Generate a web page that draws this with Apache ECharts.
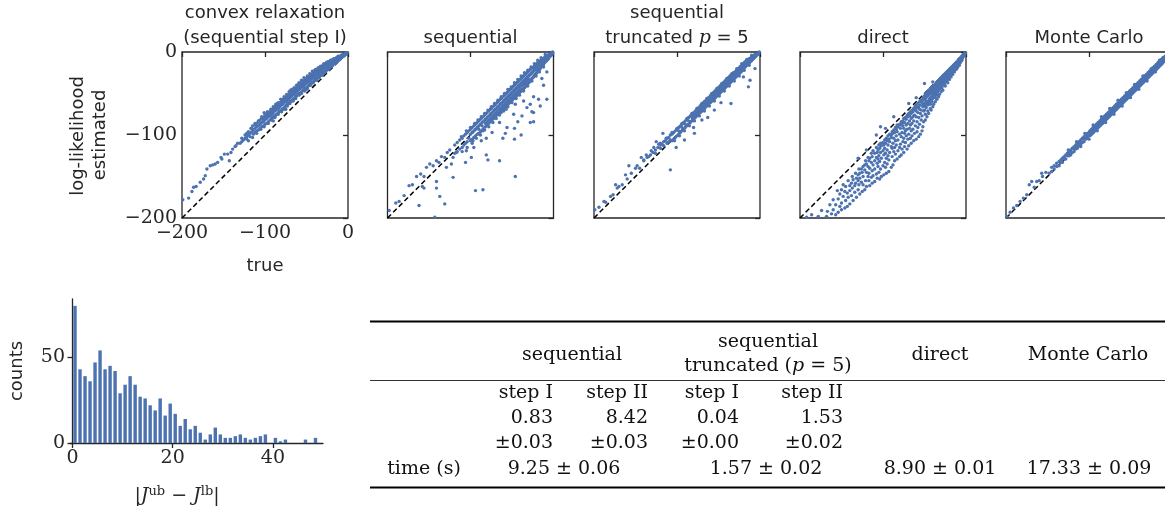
<!DOCTYPE html>
<html><head><meta charset="utf-8">
<script src="https://cdn.jsdelivr.net/npm/echarts@6/dist/echarts.min.js"></script>
<style>html,body{margin:0;padding:0;background:#fff}#c{width:1165px;height:513px}</style>
</head><body><div id="c"></div>
<script>
// ---------------- DATA ----------------
const plotTitles = [["convex relaxation","(sequential step I)"],["sequential"],["sequential","truncated {it|p} = 5"],["direct"],["Monte Carlo"]];
const scatterTicks = [-200,-100,0];
// rows: [true log-likelihood, estimated, estimated, ...]
const convexRows = [[-1,-1],[-2,-1,-2],[-3,-2,-3],[-4,-3,-2,-4],[-5,-4,-3,-5],[-6,-4,-5,-3],[-7,-5,-4,-6],[-8,-6,-4,-7],[-9,-6,-5,-8],[-10,-7,-5,-9],[-11,-8,-6,-10],[-12,-9,-6,-10],[-13,-9,-7,-11],[-14,-10,-7,-12],[-15,-11,-8,-13],[-16,-11,-8,-13,-14],[-17,-12,-9,-14],[-18,-13,-9,-15,-11],[-19,-13,-10,-16],[-20,-14,-10,-17,-12],[-21,-15,-11,-18],[-22,-15,-11,-19,-13],[-23,-16,-12,-20],[-24,-17,-12,-20,-14],[-25,-17,-13,-21],[-26,-18,-13,-22,-15],[-27,-19,-14,-23],[-28,-20,-15,-24,-17],[-29,-20,-15,-25],[-30,-21,-16,-25,-18],[-31,-22,-17,-26],[-32,-23,-18,-27,-20],[-33,-23,-18,-28],[-34,-24,-19,-29,-21],[-35,-25,-20,-30],[-36,-26,-21,-31,-23],[-37,-27,-22,-31],[-38,-27,-22,-32,-25],[-39,-28,-23,-33],[-40,-29,-24,-34,-26],[-41,-30,-25,-35],[-42,-31,-26,-36,-28],[-43,-31,-26,-37],[-44,-32,-27,-37,-29],[-45,-33,-28,-38],[-46,-34,-29,-39,-31],[-47,-35,-30,-40],[-48,-36,-31,-41,-33],[-49,-36,-31,-42],[-50,-37,-32,-43,-35],[-51,-38,-33,-44],[-52,-39,-34,-44,-36],[-53,-40,-35,-45],[-54,-41,-36,-46,-38],[-55,-42,-37,-47],[-56,-42,-37,-48,-40],[-57,-43,-38,-49],[-58,-44,-39,-50,-42],[-59,-45,-40,-50],[-60,-46,-41,-51,-43],[-62,-48,-43,-53,-45],[-63,-49,-44,-54],[-64,-50,-45,-55,-47],[-65,-51,-46,-56],[-66,-51,-46,-57,-49],[-67,-52,-47,-58],[-68,-53,-48,-59,-51],[-69,-54,-49,-59],[-70,-55,-50,-60,-52],[-72,-57,-52,-62,-54],[-73,-58,-53,-63],[-74,-59,-54,-64,-56],[-75,-60,-55,-65],[-76,-60,-55,-66,-58],[-78,-62,-57,-68,-60],[-79,-63,-58,-69],[-80,-64,-59,-70,-62],[-82,-66,-61,-71,-63],[-83,-67,-62,-72],[-84,-68,-63,-73,-65],[-86,-69,-64,-75,-67],[-87,-70,-65,-76],[-88,-71,-66,-77,-69],[-90,-73,-68,-78,-71],[-91,-74,-69,-79],[-92,-75,-70,-80,-72],[-94,-77,-72,-82,-74],[-96,-78,-73,-84,-76],[-98,-80,-75,-86,-78],[-100,-82,-77,-87,-80],[-102,-84,-79,-89,-82],[-104,-85,-80,-90],[-106,-87,-82,-92],[-108,-89,-84,-94],[-110,-90,-86,-95],[-112,-92,-88,-97],[-114,-94,-99],[-116,-96,-92],[-118,-98,-102],[-120,-100,-96],[-122,-102,-105],[-124,-104,-100],[-126,-106],[-128,-108,-104],[-130,-110],[-133,-110],[-135,-113],[-136,-114],[-139,-117],[-141,-121],[-143,-131],[-145,-123],[-149,-123],[-152,-129],[-153,-127],[-157,-133],[-160,-135],[-163,-136],[-166,-137],[-170,-141],[-172,-149],[-174,-153],[-178,-157],[-183,-162],[-186,-163],[-188,-168],[-192,-176],[-199,-178],[-115,-89],[-101,-73],[-60,-39],[-40,-22],[-85,-62],[-70,-47],[-50,-45],[-90,-83],[-75,-69],
[-12,-5],[-17,-8],[-21,-10],[-25,-12],[-29,-14],[-33,-17],[-36,-19],[-39,-21],[-43,-23],[-46,-26],[-49,-29],[-53,-31],[-56,-34],[-59,-37],[-62,-40],[-65,-43],[-68,-45],[-71,-48],[-74,-51],[-77,-54],[-81,-57],[-84,-61],[-87,-63],[-90,-66],[-93,-69],[-97,-72],[-100,-75],[-104,-78],[-108,-83],[-112,-86],[-117,-92],[-122,-98],
[-14,-13],[-19,-17],[-23,-21],[-27,-24],[-31,-28],[-35,-31],[-38,-34],[-42,-37],[-45,-40],[-49,-44],[-52,-47],[-56,-50],[-59,-52],[-63,-56],[-66,-59],[-70,-62],[-73,-65],[-77,-69],[-80,-72],[-84,-75],[-88,-79],[-92,-82],[-96,-86],[-101,-90],[-105,-93],[-110,-98],[-115,-103],[-120,-107]];
const sequentialRows = [[-1,-1,0],[-2,-1,-3],[-3,-2,-4],[-4,-2,-5,-4],[-5,-3,-6],[-6,-4,-8,-5],[-7,-4,-9],[-8,-5,-10,-7],[-9,-6,-11],[-10,-6,-12,-9],[-11,-7,-13,-10],[-12,-8,-15,-11],[-13,-8,-16,-12],[-14,-9,-17,-13],[-15,-10,-18,-14],[-16,-11,-20,-15],[-17,-12,-21,-16],[-18,-12,-22,-17],[-19,-13,-23,-18],[-20,-14,-25,-19],[-21,-15,-26,-20],[-22,-16,-27,-21],[-23,-17,-28,-22],[-24,-18,-30,-23],[-25,-19,-31,-24],[-26,-19,-32,-25],[-27,-20,-33,-26],[-28,-21,-35,-27],[-29,-22,-36,-28],[-30,-23,-37,-29,-33],[-31,-24,-38,-30],[-32,-25,-39,-31,-35],[-33,-26,-40,-32],[-34,-27,-42,-33,-37],[-35,-28,-43,-34],[-36,-29,-44,-35,-39],[-37,-30,-45,-36],[-38,-31,-46,-37,-41],[-39,-32,-47,-38],[-40,-33,-48,-39,-44],[-41,-34,-49,-40],[-42,-35,-50,-41,-46],[-43,-36,-51,-42],[-44,-37,-52,-43,-48],[-45,-38,-53,-44],[-46,-39,-54,-45,-50],[-47,-40,-55,-46],[-48,-41,-56,-47,-52],[-49,-42,-57,-48],[-50,-43,-58,-49,-54],[-51,-44,-59,-50],[-52,-45,-60,-51,-56],[-53,-46,-61,-52],[-54,-47,-62,-53,-58],[-55,-48,-63,-54],[-56,-49,-64,-55,-60],[-57,-50,-65,-56],[-58,-51,-66,-57,-62],[-59,-52,-67,-58],[-60,-53,-68,-59,-64],[-62,-55,-70,-61,-66],[-63,-56,-71,-62],[-64,-57,-72,-63,-68],[-66,-59,-74,-65,-70],[-67,-60,-75,-66],[-68,-61,-76,-67,-72],[-70,-63,-78,-69,-74],[-71,-64,-79,-70],[-72,-65,-80,-71,-76],[-74,-67,-82,-73,-78],[-75,-68,-83,-74],[-76,-69,-84,-75,-80],[-78,-71,-86,-77,-82],[-80,-73,-88,-79,-84],[-82,-75,-90,-81,-86],[-84,-77,-92,-83],[-86,-79,-94,-85,-89],[-88,-81,-96,-87],[-90,-83,-98,-89,-93],[-92,-85,-99,-91],[-94,-87,-101,-93],[-96,-89,-103,-95],[-98,-91,-105,-97],[-100,-93,-107,-99],[-102,-95,-104],[-104,-97,-108],[-106,-99,-110],[-108,-101,-112],[-110,-104,-115],[-113,-106,-117],[-116,-109,-120],[-119,-112,-122],[-125,-118],[-128,-121],[-131,-127],[-135,-126],[-138,-133],[-141,-131],[-145,-137],[-149,-135],[-153,-139],[-156,-150],[-160,-147],[-165,-150],[-170,-160],[-174,-161],[-180,-173],[-186,-180],[-190,-182],[-198,-191],[-8,-24],[-8,-57],[-14,-32],[-12,-40],[-18,-57],[-16,-65],[-24,-54],[-24,-84],[-24,-73],[-28,-85],[-28,-63],[-32,-67],[-26,-72],[-36,-59],[-38,-77],[-39,-100],[-43,-84],[-46,-63],[-47,-92],[-47,-105],[-48,-75],[-46,-150],[-56,-91],[-57,-69],[-58,-98],[-61,-104],[-63,-73],[-65,-85],[-65,-131],[-71,-79],[-74,-97],[-79,-130],[-81,-124],[-81,-104],[-85,-95],[-85,-166],[-87,-107],[-91,-99],[-94,-167],[-96,-115],[-97,-107],[-99,-127],[-105,-119],[-106,-133],[-117,-121],[-121,-127],[-121,-151],[-123,-135],[-129,-139],[-131,-183],[-137,-174],[-141,-164],[-141,-156],[-143,-199],[-156,-164],[-162,-185],[-158,-162],
[-10,-3],[-15,-7],[-19,-10],[-23,-14],[-27,-18],[-31,-22],[-35,-25],[-39,-29],[-43,-33],[-47,-37],[-51,-42],[-55,-45],[-59,-50],[-63,-54],[-67,-58],[-71,-62],[-75,-66],[-79,-70],[-83,-74],[-87,-78],[-91,-82],[-95,-86],[-100,-91],[-105,-95],[-111,-102],
[-12,-18],[-17,-24],[-21,-29],[-26,-35],[-31,-41],[-36,-47],[-41,-52],[-45,-56],[-50,-61],[-55,-66],[-60,-71],[-65,-76],[-69,-80],[-73,-85],[-78,-90],[-83,-94],[-88,-100],[-93,-104],[-98,-110],[-104,-115],[-110,-120]];
const truncatedRows = [[-1,-1,0],[-2,-1,-2],[-3,-2,-3],[-4,-2,-4,-3],[-5,-3,-5],[-6,-3,-6,-4],[-7,-4,-7],[-8,-5,-8,-6],[-9,-5,-9],[-10,-6,-10,-8],[-11,-7,-11],[-12,-8,-12,-9],[-13,-8,-13],[-14,-9,-14,-11],[-15,-10,-15],[-16,-11,-16,-13],[-17,-11,-17],[-18,-12,-18,-15],[-19,-13,-19],[-20,-14,-21,-17],[-21,-15,-22],[-22,-16,-23,-19],[-23,-17,-24],[-24,-18,-25,-21],[-25,-19,-26],[-26,-20,-27,-23],[-27,-21,-28],[-28,-22,-29,-25],[-29,-23,-30],[-30,-24,-31,-27],[-31,-25,-32],[-32,-25,-33,-29],[-33,-26,-34],[-34,-27,-35,-31],[-35,-28,-36],[-36,-29,-37,-33],[-37,-30,-38],[-38,-31,-39,-35],[-39,-32,-40],[-40,-33,-41,-37],[-41,-34,-42],[-42,-35,-43,-39],[-43,-36,-44],[-44,-37,-45,-41],[-45,-38,-46],[-46,-39,-47,-43],[-47,-40,-48],[-48,-41,-49,-45],[-49,-42,-50],[-50,-43,-51,-47],[-51,-44,-52],[-52,-45,-53,-49],[-53,-46,-54],[-54,-47,-55,-51],[-55,-48,-56],[-56,-49,-57,-53],[-57,-50,-58],[-58,-51,-59,-55],[-59,-52,-60],[-60,-53,-61,-57],[-62,-55,-63,-59],[-63,-56,-64],[-64,-57,-65,-61],[-66,-59,-67,-63],[-67,-60,-68],[-68,-61,-69,-65],[-70,-63,-71,-67],[-71,-64,-72],[-72,-65,-73,-69],[-74,-67,-75,-71],[-75,-68,-76],[-76,-69,-77,-73],[-78,-71,-79,-75],[-80,-73,-81,-77],[-82,-75,-83,-79],[-84,-77,-85],[-86,-79,-87,-83],[-88,-81,-89],[-90,-83,-91,-87],[-92,-85,-93],[-94,-87,-95,-91],[-96,-89,-97],[-98,-91,-99,-95],[-100,-93,-101],[-102,-95,-103],[-104,-97,-105],[-106,-99,-107],[-108,-100,-106],[-110,-103,-108],[-112,-104,-110],[-114,-107],[-116,-108,-113],[-118,-111],[-120,-112,-116],[-123,-115],[-126,-118,-122],[-129,-121],[-132,-124],[-136,-127],[-140,-130],[-199,-190],[-194,-187],[-188,-180],[-186,-181],[-180,-174],[-177,-172],[-174,-160],[-172,-164],[-170,-162],[-166,-160],[-162,-148],[-160,-153],[-158,-137],[-155,-146],[-150,-140],[-148,-137],[-145,-140],[-143,-127],[-140,-131],[-137,-124],[-134,-126],[-131,-119],[-128,-115],[-125,-108],[-122,-111],[-117,-98],[-108,-142],[-35,-62],[-47,-61],[-14,-42],[-12,-34],[-63,-79],[-79,-98],[-91,-106],[-101,-115],[-80,-91],[-6,-20],[-20,-30],[-55,-70],[-70,-82],
[-10,-4],[-16,-9],[-22,-14],[-28,-20],[-34,-26],[-40,-32],[-46,-38],[-52,-44],[-58,-50],[-64,-56],[-70,-62],[-76,-68],[-82,-74],[-88,-80],[-94,-86],[-100,-92],[-106,-97],[-113,-104],[-120,-110],
[-13,-16],[-19,-22],[-25,-29],[-31,-35],[-37,-41],[-43,-47],[-49,-53],[-55,-59],[-61,-65],[-67,-71],[-73,-77],[-79,-83],[-85,-89],[-91,-95],[-97,-101],[-103,-107]];
const directRows = [[-1,-1,-2],[-2,-2,-3,-4],[-3,-3,-5,-4],[-4,-5,-4,-7,-6],[-5,-6,-8,-5,-10],[-6,-7,-9,-6,-11],[-7,-8,-11,-9,-13],[-8,-10,-8,-13,-16],[-9,-11,-9,-14,-12],[-10,-12,-15,-11,-18],[-11,-13,-16,-12,-20],[-12,-15,-13,-18,-21],[-13,-14,-17,-20,-16],[-14,-16,-19,-15,-24],[-15,-18,-16,-22,-20],[-16,-19,-17,-24,-27],[-17,-20,-18,-23,-26],[-18,-21,-19,-25,-30],[-19,-23,-20,-28,-25],[-20,-24,-21,-27,-33],[-21,-25,-22,-30,-28],[-22,-27,-23,-32,-37],[-23,-26,-24,-31,-35],[-24,-29,-25,-34,-28],[-25,-31,-26,-36,-41],[-26,-30,-27,-35,-39],[-27,-33,-28,-38,-31],[-28,-34,-29,-40,-46],[-29,-32,-30,-37,-43],[-30,-35,-31,-41,-48,-38],[-31,-37,-32,-44,-34],[-32,-36,-33,-42,-51,-39],[-33,-39,-35,-46,-54],[-34,-41,-36,-48,-44],[-35,-38,-37,-45,-57,-52],[-36,-43,-38,-50,-41],[-37,-40,-39,-47,-60,-55],[-38,-45,-40,-53,-48],[-39,-42,-41,-51,-63],[-40,-47,-43,-56,-66,-50],[-41,-44,-42,-53,-60],[-42,-49,-45,-58,-70],[-43,-46,-44,-55,-63,-68],[-44,-51,-47,-61,-57],[-45,-48,-46,-59,-74],[-46,-53,-50,-64,-71,-60],[-47,-50,-49,-62,-78],[-48,-55,-51,-67,-59],[-49,-52,-50,-65,-75,-82],[-50,-57,-53,-70,-62],
[-51,-58,-71,-84,-63],[-52,-66,-90,-55],[-53,-61,-77,-95],[-54,-70,-58,-82],[-55,-64,-99,-74],[-56,-60,-87,-69],[-57,-79,-66,-102],[-58,-62,-73,-91],[-59,-84,-67,-96],[-60,-65,-78,-105,-71],[-61,-89,-70,-64],[-62,-76,-98,-67],[-63,-68,-83,-107],[-64,-93,-72,-78],[-65,-70,-86,-101],[-66,-80,-95,-74,-110],[-67,-72,-88,-104],[-68,-77,-92,-83],[-69,-74,-99,-113],[-70,-86,-78,-105],[-71,-93,-76,-117],[-72,-81,-101,-88],[-73,-79,-109,-95],[-74,-85,-114,-98],[-75,-80,-92,-121,-104],[-76,-89,-108,-83],[-77,-97,-117,-86],[-78,-84,-102,-124],[-79,-92,-111,-88],[-80,-87,-99,-126,-115],[-82,-90,-106,-119],[-83,-96,-88,-129],[-84,-101,-112,-93],[-85,-123,-91,-107],[-86,-97,-131,-115],[-87,-94,-104,-120],[-88,-110,-136,-98],[-89,-96,-126,-116],[-90,-103,-114,-139,-100],[-92,-99,-121,-108],[-93,-130,-105,-144],[-94,-112,-101,-125],[-95,-118,-135,-107],[-96,-104,-128,-146],[-97,-110,-122,-139],[-98,-116,-106,-133],[-99,-124,-148,-112],[-100,-109,-137,-119],[-102,-113,-128,-150],[-103,-121,-141,-110],[-104,-132,-116,-153],[-105,-125,-112,-145],[-106,-118,-138,-129],[-107,-134,-152,-121],[-108,-115,-127,-147],[-110,-122,-141,-156,-131],[-112,-136,-119,-149],[-113,-126,-158,-143],[-114,-133,-122,-151],[-116,-140,-128,-161],[-117,-146,-131,-155],[-118,-127,-150,-138],[-120,-135,-162,-145],[-121,-155,-131],[-122,-142,-166,-136],[-124,-150,-138,-160],[-125,-168,-145],[-126,-141,-157],[-128,-152,-171,-146],[-129,-160,-141],[-130,-148,-166,-155],[-132,-175,-152],[-133,-158,-146],[-134,-169,-161],[-136,-154,-179],[-137,-164,-150],[-138,-173,-158],[-140,-161,-183,-167],[-142,-155,-175],[-143,-170,-186],[-145,-162,-179],[-146,-168,-188],[-148,-174,-160],[-150,-182,-166,-190],[-152,-171,-186],[-154,-177,-193],[-155,-167],[-157,-184,-196],[-160,-178,-190],[-162,-195],[-164,-184],[-167,-192],[-168,-198],[-174,-191],[-178,-198],[-186,-196],[-192,-199],
[-103,-90],[-69,-62],[-87,-78],[-50,-38],[-120,-118],[-97,-92],[-108,-100],[-130,-128],[-60,-55],[-40,-36]];
const monteCarloRows = [[-1,0,-1],[-2,-1,-3],[-3,-1,-3,-4],[-4,-2,-5],[-5,-3,-5,-6],[-6,-4,-7],[-7,-5,-7,-8],[-8,-5,-9],[-9,-6,-9,-11],[-10,-7,-11],[-11,-7,-10,-13],[-12,-9,-13,-14],[-13,-9,-12,-15],[-14,-11,-15,-16],[-15,-11,-14,-17],[-16,-13,-17,-18],[-17,-13,-16,-19],[-18,-15,-19,-20],[-19,-15,-18,-21],[-20,-17,-21,-22],[-21,-17,-20,-23],[-22,-19,-23,-24],[-23,-19,-22,-25],[-24,-21,-25,-26],[-25,-21,-24,-27],[-26,-23,-27,-28],[-27,-23,-26,-29],[-28,-25,-29,-30],[-29,-25,-28,-31],[-30,-27,-31,-32],[-31,-27,-30,-33],[-32,-29,-33,-34],[-33,-29,-32,-35],[-34,-31,-35,-36],[-35,-31,-34,-37],[-36,-33,-37,-38],[-37,-33,-36,-39],[-38,-35,-39,-40],[-39,-35,-38,-41],[-40,-37,-41,-42],[-41,-37,-40,-43],[-42,-39,-43,-44],[-43,-39,-42,-45],[-44,-41,-45,-46],[-45,-41,-44,-47],[-46,-43,-47,-48],[-47,-43,-46,-49],[-48,-45,-49,-50],[-49,-45,-48,-51],[-50,-47,-51,-52],[-51,-47,-50,-53],[-52,-49,-53,-54],[-53,-49,-52,-55],[-54,-51,-55,-56],[-55,-51,-54,-57],[-56,-53,-57,-58],[-57,-53,-56,-59],[-58,-55,-59,-60],[-59,-55,-58,-61],[-60,-57,-61,-62],[-61,-57,-60,-63],[-62,-59,-63,-64],[-63,-59,-62,-65],[-64,-61,-65,-66],[-65,-61,-64,-67],[-66,-63,-67,-68],[-67,-63,-66,-69],[-68,-65,-69,-70],[-69,-65,-68,-71],[-70,-67,-71,-72],[-71,-67,-70,-73],[-72,-69,-73,-74],[-73,-69,-72,-75],[-74,-71,-75,-76],[-75,-71,-74,-77],[-76,-73,-77,-78],[-77,-73,-76,-79],[-78,-75,-79,-80],[-79,-75,-78,-81],[-80,-77,-81,-82],[-81,-77,-80,-83],[-82,-79,-83,-84],[-83,-79,-82,-85],[-84,-81,-85,-86],[-85,-81,-84,-87],[-86,-83,-87,-88],[-87,-83,-86,-89],[-88,-85,-89,-90],[-89,-85,-88,-91],[-90,-87,-91,-92],[-91,-87,-90,-93],[-92,-89,-93,-94],[-93,-89,-92,-95],[-94,-91,-95,-96],[-95,-91,-94,-97],[-96,-93,-97,-98],[-97,-93,-96,-99],[-98,-95,-99,-100],[-99,-95,-98,-101],[-100,-97,-101],[-102,-98,-101,-104],[-104,-100,-105],[-106,-102,-105,-108],[-108,-104,-109],[-110,-106,-109,-112],[-112,-108,-113],[-114,-110,-113,-116],[-116,-112,-117],[-118,-114,-117,-120],[-120,-116,-121],[-122,-118,-121,-124],[-124,-120,-125],[-126,-122,-125],[-128,-124,-129],[-130,-126,-129],[-132,-128,-133],[-134,-130,-133],[-136,-132,-137],[-139,-134,-138],[-142,-137,-141],[-145,-139,-144],[-148,-146],[-152,-145],[-156,-150],[-157,-146],[-160,-155],[-163,-156],[-166,-163],[-169,-156],[-172,-160],[-175,-172],[-179,-176],[-183,-180],[-187,-185],[-191,-188],[-195,-193],[-199,-198],
[-15,-10],[-25,-20],[-35,-29],[-45,-39],[-55,-49],[-65,-58],[-75,-68],[-85,-78],[-95,-88],[-105,-98],[-115,-108],[-125,-118],
[-20,-24],[-30,-35],[-40,-45],[-50,-55],[-60,-65],[-70,-75],[-80,-85],[-90,-95],[-100,-105],[-110,-114]];
const diagonal = [[-200,-200],[0,0]];

// histogram of |J^ub - J^lb|, bins of width 1 starting at 0
const histCounts = [80,43,39,36,47,54,43,45,42,29,34,39,34,27,26,22,19,26,16,23,17,10,14,8,10,6,2,5,9,5,3,3,4,5,3,2,3,4,5,0,3,1,2,0,0,0,2,0,3];
const histXTicks = [0,20,40];
const histYTicks = [0,50];

// table
const tableGroupHeads = ["sequential", "sequential", "truncated ({it|p} = 5)", "direct", "Monte Carlo"];
const tableStepHeads = ["step I","step II","step I","step II"];
const tableStepMeans = ["0.83","8.42","0.04","1.53"];
const tableStepErrs = ["\u00b10.03","\u00b10.03","\u00b10.00","\u00b10.02"];
const tableTimeLabel = "time (s)";
const tableTimes = ["9.25 \u00b1 0.06","1.57 \u00b1 0.02","8.90 \u00b1 0.01","17.33 \u00b1 0.09"];

// ---------------- CHART ----------------
const BLUE = '#4c72b0', INK = '#262626';
const SERIF = '"DejaVu Serif", "Liberation Serif", serif';
const SANS = '"DejaVu Sans", sans-serif';
const FS = 19;
const expand = rows => { const o=[]; rows.forEach(r=>{ for(let k=1;k<r.length;k++) o.push([r[0], r[k]]); }); return o; };
const allRows = [convexRows, sequentialRows, truncatedRows, directRows, monteCarloRows];
const minus = v => v < 0 ? '\u2212' + Math.abs(v) : String(v);

const lefts = [182, 387.5, 594, 800, 1006];
const grids = [], xAxes = [], yAxes = [], series = [];
lefts.forEach((L, i) => {
  grids.push({left: L, top: 52, width: 166, height: 166, show: true, borderColor: INK, borderWidth: 1.3, backgroundColor: 'transparent', outerBoundsMode: 'none'});
  const common = {gridIndex: i, type: 'value', min: scatterTicks[0], max: scatterTicks[2], interval: 100,
    axisLine: {show: false}, splitLine: {show: false},
    axisTick: {show: true, length: 5, lineStyle: {color: INK, width: 1.3}}};
  xAxes.push(Object.assign({}, common, {axisLabel: {show: i === 0, formatter: minus, fontFamily: SERIF, fontSize: FS, color: INK, margin: 6}}));
  yAxes.push(Object.assign({}, common, {axisLabel: {show: i === 0, formatter: minus, fontFamily: SERIF, fontSize: FS, color: INK, margin: 5}}));
  series.push({type: 'line', xAxisIndex: i, yAxisIndex: i, data: diagonal, symbol: 'none', lineStyle: {color: '#000', width: 1.5, type: [5, 3]}, silent: true, z: 2});
  series.push({type: 'scatter', xAxisIndex: i, yAxisIndex: i, data: expand(allRows[i]), symbolSize: 3.4, itemStyle: {color: BLUE, opacity: 1}, silent: true, z: 3, large: false});
});
grids.push({left: 70, top: 299, width: 253, height: 144, outerBoundsMode: 'none'});
xAxes.push({gridIndex: 5, type: 'value', min: -0.5, max: 50,
  axisLine: {show: true, lineStyle: {color: INK, width: 1.3}}, splitLine: {show: false},
  axisTick: {show: true, length: 5, customValues: histXTicks, lineStyle: {color: INK, width: 1.3}},
  axisLabel: {customValues: histXTicks, fontFamily: SERIF, fontSize: FS, color: INK, margin: 6}});
yAxes.push({gridIndex: 5, type: 'value', min: 0, max: 84,
  axisLine: {show: true, lineStyle: {color: INK, width: 1.3}}, splitLine: {show: false},
  axisTick: {show: true, length: 5, customValues: histYTicks, lineStyle: {color: INK, width: 1.3}},
  axisLabel: {customValues: histYTicks, fontFamily: SERIF, fontSize: FS, color: INK, margin: 5}});
series.push({type: 'bar', xAxisIndex: 5, yAxisIndex: 5, data: histCounts.map((c, k) => [k + 0.5, c]), barWidth: 3.4, itemStyle: {color: BLUE}, silent: true});

const g = [];
const txt = (text, x, y, o) => g.push(Object.assign({type: 'text', x: x, y: y, silent: true, style: Object.assign({text: text, textAlign: 'center', textVerticalAlign: 'middle', fill: INK, font: '18px ' + SANS}, (o && o.style) || {})}, (o && o.el) || {}));
const itRich = {it: {fontFamily: SERIF, fontStyle: 'italic', fontSize: FS, fill: INK}};
plotTitles.forEach((t, i) => {
  const cx = lefts[i] + 83;
  if (t.length === 2) { txt(t[0], cx, 13); txt(t[1], cx, 38, {style: {rich: itRich}}); }
  else txt(t[0], cx, 38);
});
txt('log-likelihood', 78, 136, {el: {rotation: Math.PI / 2}});
txt('estimated', 100, 135, {el: {rotation: Math.PI / 2}});
txt('true', 265, 266);
txt('counts', 17, 371, {el: {rotation: Math.PI / 2}});
txt('|{it|J}{sup|ub} \u2212 {it|J}{sup|lb}|', 177, 496, {style: {font: FS + 'px ' + SERIF, rich: {
  it: {fontFamily: SERIF, fontStyle: 'italic', fontSize: FS, fill: INK},
  sup: {fontFamily: SERIF, fontSize: 13, fill: INK, padding: [0, 0, 9, 0]}}}});
const line = (x1, y, x2, w, c) => g.push({type: 'line', silent: true, shape: {x1: x1, y1: y, x2: x2, y2: y}, style: {stroke: c, lineWidth: w}});
line(370, 321.5, 1165, 2, '#000');
line(370, 380.5, 1165, 1.1, '#333');
line(370, 487.5, 1165, 2, '#000');
const T = (text, x, y, align) => txt(text, x, y, {style: {font: FS + 'px ' + SERIF, fill: '#111', textAlign: align || 'center', rich: {it: {fontFamily: SERIF, fontStyle: 'italic', fontSize: FS, fill: '#111'}}}});
T(tableGroupHeads[0], 572, 355);
T(tableGroupHeads[1], 768, 342);
T(tableGroupHeads[2], 768, 366);
T(tableGroupHeads[3], 940, 355);
T(tableGroupHeads[4], 1088, 355);
const colRight = [553, 648, 739, 843];
tableStepHeads.forEach((s, k) => T(s, colRight[k], 393, 'right'));
tableStepMeans.forEach((s, k) => T(s, colRight[k], 418, 'right'));
tableStepErrs.forEach((s, k) => T(s, colRight[k], 443, 'right'));
T(tableTimeLabel, 424, 469);
const timeCenters = [564, 766, 940, 1089];
tableTimes.forEach((s, k) => T(s, timeCenters[k], 469));

const chart = echarts.init(document.getElementById('c'), null, {renderer: 'canvas'});
chart.setOption({animation: false, backgroundColor: '#fff', grid: grids, xAxis: xAxes, yAxis: yAxes, series: series, graphic: g});
</script></body></html>
